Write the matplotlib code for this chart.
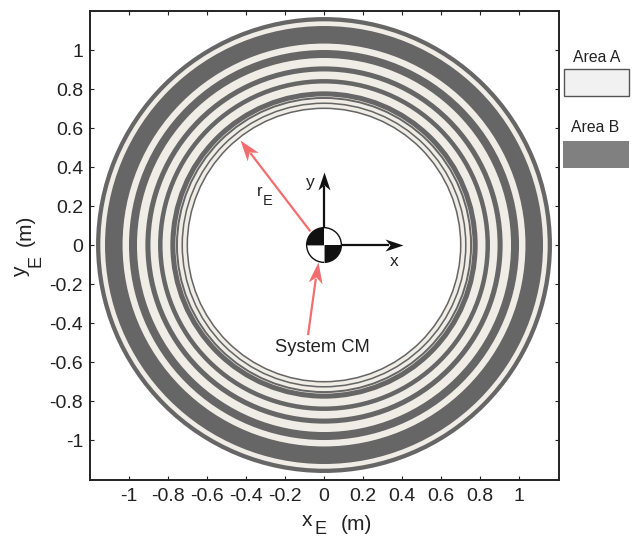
import numpy as np
import matplotlib
matplotlib.use("Agg")
import matplotlib.pyplot as plt
from matplotlib.patches import Circle, Wedge, Rectangle
from matplotlib.path import Path
from matplotlib.transforms import Affine2D

plt.rcParams['font.family'] = ['Liberation Sans', 'DejaVu Sans']

# outer radius of each ring, from the outside in, alternating Area B / Area A
ring_radii = [1.169, 1.147, 1.123, 1.033, 1.000, 0.959, 0.916, 0.890, 0.851,
              0.828, 0.788, 0.762, 0.759, 0.749, 0.731, 0.723, 0.705]
inner_radius = 0.697
ticks = [-1, -0.8, -0.6, -0.4, -0.2, 0, 0.2, 0.4, 0.6, 0.8, 1]
tick_labels = ['-1', '-0.8', '-0.6', '-0.4', '-0.2', '0', '0.2', '0.4', '0.6', '0.8', '1']

AREA_A = '#efede5'
AREA_B = '#666666'
RED = '#f26d6d'
INK = '#111111'
TEXT = '#222222'

W, H = 633, 539
fig = plt.figure(figsize=(W / 100, H / 100), dpi=100, facecolor='white')
ax = fig.add_axes([90 / W, 1 - 480 / H, 469 / W, 469 / H])
ax.set_xlim(-1.2, 1.205)
ax.set_ylim(-1.205, 1.2)

for i, r in enumerate(ring_radii):
    ax.add_patch(Circle((0, 0), r, fc=AREA_B if i % 2 == 0 else AREA_A, ec='none', zorder=1))
ax.add_patch(Circle((0, 0), inner_radius, fc='white', ec='none', zorder=1))


def arrow(start, tip, color, lw, length, width, z):
    """Line with a swept-back head whose point sits exactly on tip; head sizes in pixels."""
    start, tip = np.array(start, float), np.array(tip, float)
    d = tip - start
    u = d / np.hypot(*d)
    verts = np.array([[0, 0], [-length, width / 2], [-0.72 * length, 0], [-length, -width / 2], [0, 0]])
    verts = Affine2D().rotate(np.arctan2(d[1], d[0])).transform(verts)
    marker = Path(verts, [Path.MOVETO, Path.LINETO, Path.LINETO, Path.LINETO, Path.CLOSEPOLY])
    ms = 2 * np.abs(verts).max() * 0.72
    end = tip - u * 0.8 * length / 195
    ax.plot([start[0], end[0]], [start[1], end[1]], color=color, lw=lw, zorder=z, solid_capstyle='butt')
    ax.plot([tip[0]], [tip[1]], marker=marker, ms=ms, color=color, mec=color, mew=0, ls='none', zorder=z + 0.1)


# body axes
arrow((0, 0), (0.405, 0), INK, 1.6, 18, 12, 3)
arrow((0, 0), (0, 0.374), INK, 1.6, 18, 12, 3)
# red arrows
arrow((-0.07, 0.07), (-0.43, 0.54), RED, 1.6, 21, 14, 3)
arrow((-0.082, -0.462), (-0.03, -0.087), RED, 1.6, 21, 14, 3)

# centre of mass symbol
R = 0.089
ax.add_patch(Circle((0, 0), R, fc='white', ec=INK, lw=1.0, zorder=4))
ax.add_patch(Wedge((0, 0), R, 90, 180, fc=INK, ec='none', zorder=5))
ax.add_patch(Wedge((0, 0), R, 270, 360, fc=INK, ec='none', zorder=5))
ax.plot([-R, 0], [0, 0], color='#999999', lw=0.7, zorder=5)
ax.plot([0, 0], [-R, 0], color='#999999', lw=0.7, zorder=5)


def ftext(x, y, s, size, rotation=0):
    fig.text(x / W, 1 - y / H, s, fontsize=size, ha='center', va='center',
             color=TEXT, rotation=rotation, zorder=10)


# annotations
ftext(260, 191, 'r', 12)
ftext(268, 201, 'E', 10.5)
ftext(310, 182, 'y', 12.5)
ftext(394, 261, 'x', 12.5)
ftext(322, 348, 'System CM', 13.2)

# axes styling
for s in ax.spines.values():
    s.set_linewidth(1.4)
    s.set_color(TEXT)
ax.set_xticks(ticks, tick_labels)
ax.set_yticks(ticks, tick_labels)
ax.tick_params(direction='in', top=True, right=True, length=3, width=0.8,
               labelsize=14, color=TEXT, labelcolor=TEXT)
ax.tick_params(axis='x', pad=6)
ax.tick_params(axis='y', pad=5)

# axis titles, built from separate letter and subscript
ftext(307, 521, 'x', 15)
ftext(321, 530, 'E', 13)
ftext(356, 524, '(m)', 15)
ftext(21, 272, 'y', 15, 90)
ftext(36, 261, 'E', 13, 90)
ftext(25, 230, '(m)', 15, 90)

# legend outside the axes
fig.add_artist(Rectangle((563.5 / W, 1 - 96 / H), 65.5 / W, 26.5 / H, transform=fig.transFigure,
                         fc='#f1f1f1', ec='#555555', lw=1.0))
fig.add_artist(Rectangle((563 / W, 1 - 168 / H), 66 / W, 27 / H, transform=fig.transFigure,
                         fc='#808080', ec='none'))
ftext(597, 57, 'Area A', 11.3)
ftext(595, 127, 'Area B', 11.3)

fig.savefig('out.png', dpi=100)
